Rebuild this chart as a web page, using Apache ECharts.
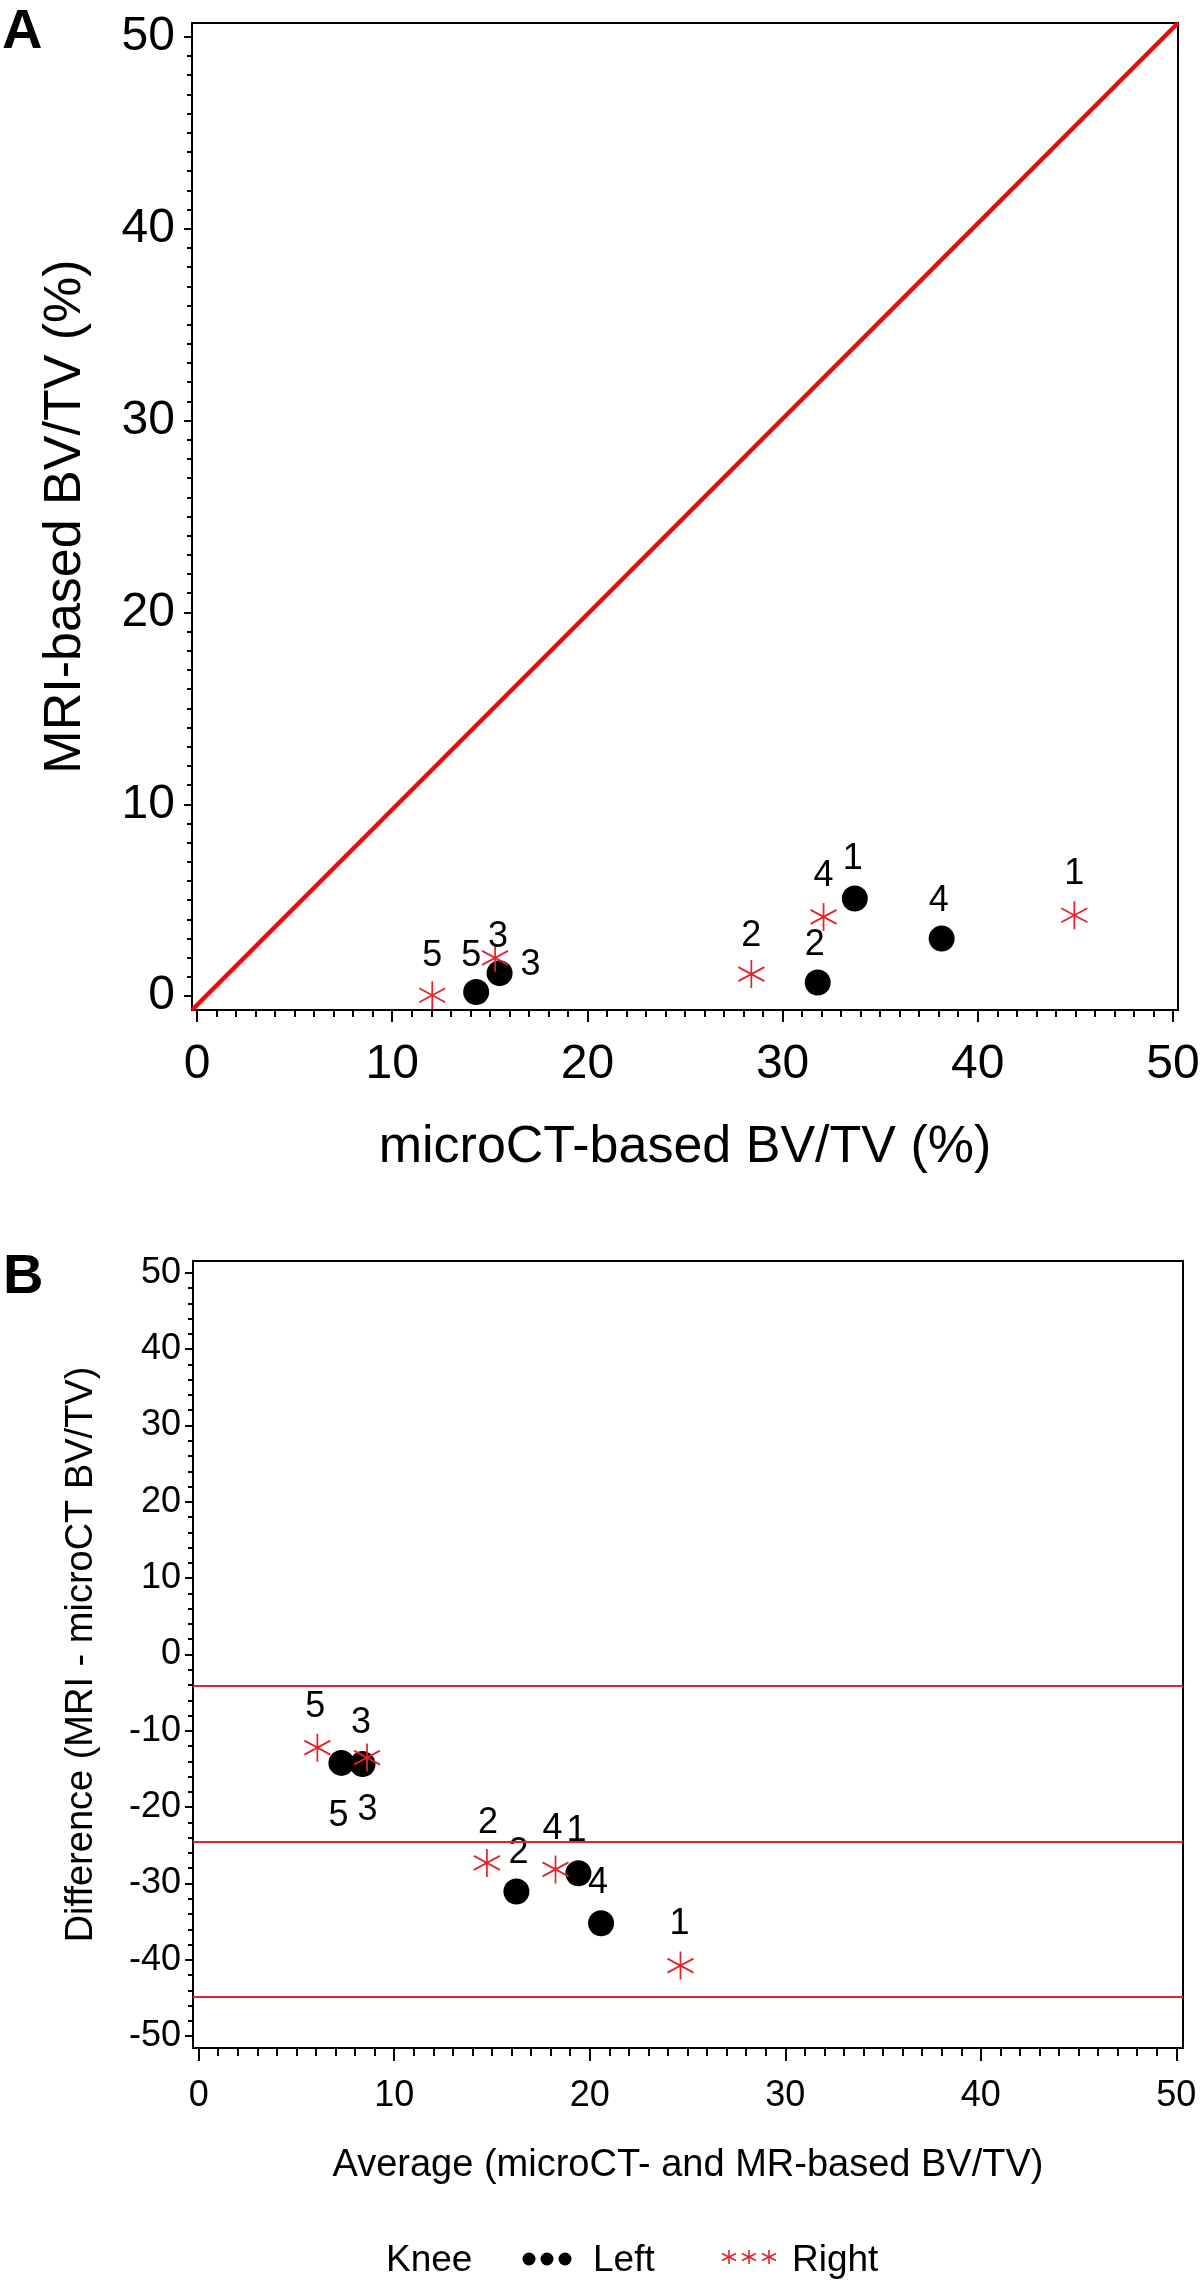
<!DOCTYPE html>
<html>
<head>
<meta charset="utf-8">
<title>MRI vs microCT BV/TV</title>
<script src="https://cdn.jsdelivr.net/npm/echarts@6/dist/echarts.min.js"></script>
<style>
html, body { margin: 0; padding: 0; background: #fff; }
#chart { width: 1200px; height: 2291px; }
</style>
</head>
<body>
<div id="chart"></div>
<script>
// ---- data ----
// panel A: microCT-based vs MRI-based BV/TV (%)
var leftIds = ["5", "3", "2", "1", "4"];
var leftMicroCT = [14.3, 15.5, 31.8, 33.7, 38.15];
var leftMRI = [0.22, 1.2, 0.71, 5.09, 3.0];
var rightIds = ["5", "3", "2", "4", "1"];
var rightMicroCT = [12.05, 15.27, 28.4, 32.1, 44.95];
var rightMRI = [0.05, 2.0, 1.15, 4.13, 4.22];

// panel B: Bland-Altman (average vs difference)
var leftAvg = [7.3, 8.38, 16.25, 19.42, 20.58];
var leftDiff = [-14.2, -14.36, -31.05, -28.65, -35.2];
var rightAvg = [6.07, 8.61, 14.74, 18.25, 24.64];
var rightDiff = [-12.2, -13.5, -27.3, -28.15, -40.75];
var limitLines = [-4.1, -24.5, -44.9];

// tick labels
var ticksA = [0, 10, 20, 30, 40, 50];
var ticksBx = [0, 10, 20, 30, 40, 50];
var ticksBy = [-50, -40, -30, -20, -10, 0, 10, 20, 30, 40, 50];

// ---- layout / style ----
var FONT = '"Liberation Sans", Arial, Helvetica, sans-serif';
var RED_LINE = '#e50c0c';
var RED_STAR = '#e3222a';
var STAR = 'path://M0,-10L0,10M-8.66,-5L8.66,5M-8.66,5L8.66,-5';

var X_A = [-0.26, 50.26], Y_A = [-0.72, 50.72];
var X_B = [-0.29, 50.34], Y_B = [-51.55, 51.55];

// label offsets from the point centre (px)
var offALeft = [[-5, -36], [31, -8], [-3, -37], [-2, -39], [-3, -38]];
var offARight = [[0, -39], [3, -21], [0, -38], [0, -41], [0, -41]];
var offBLeft = [[-3, 53], [5, 46], [2, -38], [-2, -42], [-3, -40]];
var offBRight = [[-2, -41], [-6, -34], [1, -40], [-3, -40], [-1, -41]];

function steps(from, to, step) {
    var out = [];
    for (var v = from; v <= to + 1e-9; v += step) out.push(Math.round(v * 100) / 100);
    return out;
}

function mainAxis(gridIndex, pos, range, ticks, tickLen, fontSize, margin, name, nameSize, nameGap) {
    return {
        type: 'value', gridIndex: gridIndex, position: pos,
        min: range[0], max: range[1],
        axisLine: { show: true, onZero: false, lineStyle: { color: '#000', width: 2 } },
        axisTick: { show: true, inside: false, length: tickLen, customValues: ticks,
            lineStyle: { color: '#000', width: 2 } },
        axisLabel: { show: true, customValues: ticks, margin: margin, fontSize: fontSize,
            color: '#000', fontFamily: FONT },
        splitLine: { show: false },
        name: name, nameLocation: 'middle', nameGap: nameGap,
        nameTextStyle: { fontSize: nameSize, color: '#000', fontFamily: FONT }
    };
}

function minorAxis(gridIndex, pos, range, ticks, tickLen) {
    return {
        type: 'value', gridIndex: gridIndex, position: pos,
        min: range[0], max: range[1],
        axisLine: { show: false, onZero: false },
        axisTick: { show: true, inside: false, length: tickLen, customValues: ticks,
            lineStyle: { color: '#000', width: 2 } },
        axisLabel: { show: false },
        splitLine: { show: false }
    };
}

function pointSeries(name, xi, yi, xs, ys, ids, offs, isLeft) {
    return {
        name: name, type: 'scatter', xAxisIndex: xi, yAxisIndex: yi,
        data: xs.map(function (x, i) {
            return { name: ids[i], value: [x, ys[i]], label: { offset: offs[i] } };
        }),
        symbol: isLeft ? 'circle' : STAR,
        symbolSize: isLeft ? 26 : [26, 28],
        itemStyle: isLeft
            ? { color: '#000', opacity: 1 }
            : { color: 'none', borderColor: RED_STAR, borderWidth: 1.8, opacity: 1 },
        label: { show: true, position: 'inside', formatter: '{b}', fontSize: 36,
            color: '#000', opacity: 1, fontFamily: FONT },
        emphasis: { disabled: true },
        z: isLeft ? 3 : 4
    };
}

var chart = echarts.init(document.getElementById('chart'));

var legendY = 2261;
var graphics = [
    { type: 'text', x: 2, y: 33, style: { text: 'A', font: 'bold 56px ' + FONT, fill: '#000', align: 'left', verticalAlign: 'middle' } },
    { type: 'text', x: 3, y: 1278, style: { text: 'B', font: 'bold 56px ' + FONT, fill: '#000', align: 'left', verticalAlign: 'middle' } },
    { type: 'text', x: 386, y: legendY, style: { text: 'Knee', font: '37px ' + FONT, fill: '#000', align: 'left', verticalAlign: 'middle' } },
    { type: 'text', x: 593, y: legendY, style: { text: 'Left', font: '37px ' + FONT, fill: '#000', align: 'left', verticalAlign: 'middle' } },
    { type: 'text', x: 792, y: legendY, style: { text: 'Right', font: '37px ' + FONT, fill: '#000', align: 'left', verticalAlign: 'middle' } }
];
[529, 547, 565].forEach(function (cx) {
    graphics.push({ type: 'circle', shape: { cx: cx, cy: legendY - 2, r: 6.5 }, style: { fill: '#000' } });
});
[729, 749, 769].forEach(function (cx) {
    var cy = legendY - 4;
    [[0, -7, 0, 7], [-7, -3.5, 7, 3.5], [-7, 3.5, 7, -3.5]].forEach(function (s) {
        graphics.push({ type: 'line', shape: { x1: cx + s[0], y1: cy + s[1], x2: cx + s[2], y2: cy + s[3] },
            style: { stroke: RED_STAR, lineWidth: 1.6 } });
    });
});

var option = {
    animation: false,
    backgroundColor: '#fff',
    textStyle: { fontFamily: FONT },
    grid: [
        { left: 192, top: 23, width: 986, height: 987, show: true, borderColor: '#000', borderWidth: 2,
            backgroundColor: 'transparent', containLabel: false, outerBoundsMode: 'none' },
        { left: 193, top: 1261, width: 990, height: 787, show: true, borderColor: '#000', borderWidth: 2,
            backgroundColor: 'transparent', containLabel: false, outerBoundsMode: 'none' }
    ],
    xAxis: [
        mainAxis(0, 'bottom', X_A, ticksA, 12, 48, 31, 'microCT-based BV/TV (%)', 52, 112),
        minorAxis(0, 'bottom', X_A, steps(0, 50, 1), 7),
        mainAxis(1, 'bottom', X_B, ticksBx, 13, 36, 30, 'Average (microCT- and MR-based BV/TV)', 38, 99),
        minorAxis(1, 'bottom', X_B, steps(0, 50, 1), 8)
    ],
    yAxis: [
        mainAxis(0, 'left', Y_A, ticksA, 8, 48, 17, 'MRI-based BV/TV (%)', 52, 100),
        minorAxis(0, 'left', Y_A, steps(0, 50, 1), 5),
        mainAxis(1, 'left', Y_B, ticksBy, 8, 36, 12, 'Difference (MRI - microCT BV/TV)', 38, 92),
        minorAxis(1, 'left', Y_B, steps(-50, 50, 2), 5)
    ],
    graphic: graphics,
    series: [
        {
            name: 'identity', type: 'line', xAxisIndex: 0, yAxisIndex: 0,
            data: [[X_A[0], Y_A[0]], [X_A[1], Y_A[1]]],
            symbol: 'none', silent: true, z: 1,
            lineStyle: { color: RED_LINE, width: 4.5 }
        },
        pointSeries('Left', 0, 0, leftMicroCT, leftMRI, leftIds, offALeft, true),
        pointSeries('Right', 0, 0, rightMicroCT, rightMRI, rightIds, offARight, false),
        {
            name: 'limits', type: 'line', xAxisIndex: 2, yAxisIndex: 2, data: [],
            markLine: {
                silent: true, symbol: ['none', 'none'], animation: false,
                label: { show: false },
                lineStyle: { color: '#d42a2a', width: 2.2, type: 'solid' },
                data: limitLines.map(function (v) { return { yAxis: v }; })
            }
        },
        pointSeries('Left', 2, 2, leftAvg, leftDiff, leftIds, offBLeft, true),
        pointSeries('Right', 2, 2, rightAvg, rightDiff, rightIds, offBRight, false)
    ]
};

chart.setOption(option);
</script>
</body>
</html>
